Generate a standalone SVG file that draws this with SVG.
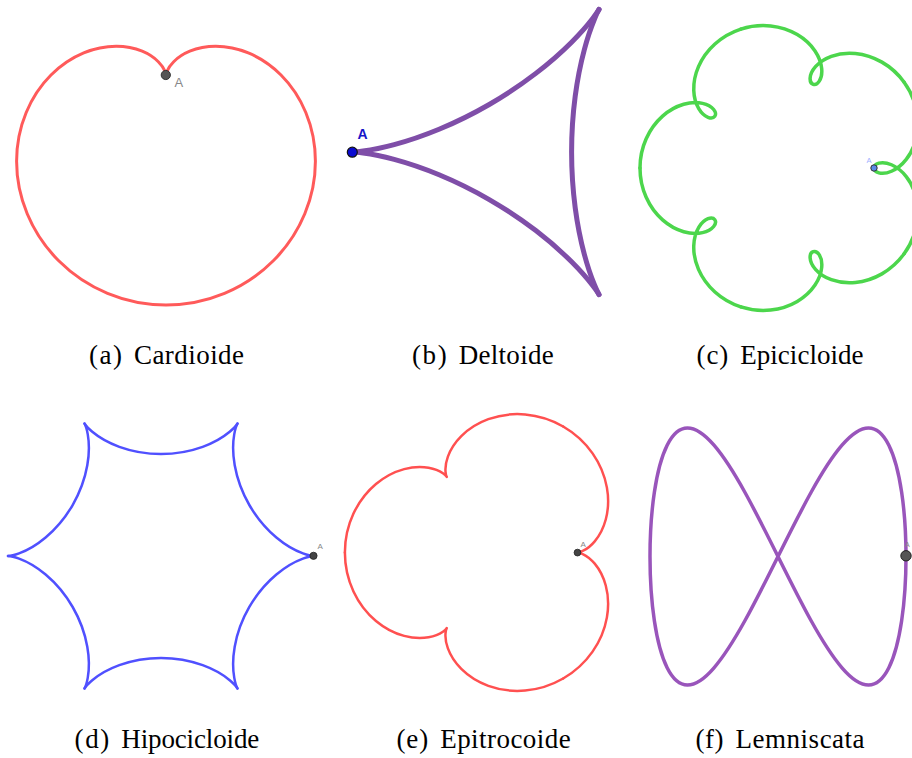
<svg xmlns="http://www.w3.org/2000/svg" width="912" height="758" viewBox="0 0 912 758">
<style>
.cap{font-family:"Liberation Serif","DejaVu Serif",serif;font-size:27px;fill:#000}
.lbl{font-family:"Liberation Sans","DejaVu Sans",sans-serif}
.curve{fill:none;stroke-linecap:round;stroke-linejoin:round}
.pt{stroke:#333;stroke-width:1}
</style>
<defs>
<path id="deltSide" d="M352,152 C352,152 355.83,151.99 363.1,151.03 C370.37,150.07 381.07,148.15 394.16,144.64 C407.25,141.13 422.7,136.04 439.06,129.26 C455.42,122.48 472.65,114.04 489.25,104.46 C505.85,94.88 521.78,84.17 535.83,73.39 C549.88,62.61 562.02,51.78 571.6,42.2 C581.18,32.62 588.2,24.31 592.66,18.49 C597.12,12.67 599.05,9.37 599.05,9.37"/>
<path id="epiPiece" d="M118.12,-85.82 C124.09,-77.6 128.29,-68.11 130.33,-58.5 C132.37,-48.89 132.26,-39.18 130.35,-30.54 C128.44,-21.9 124.75,-14.33 120.24,-8.57 C115.73,-2.81 110.41,1.14 105.48,3.26 C100.55,5.38 96.04,5.67 92.9,4.82 C89.76,3.97 88,1.99 88,0 C88,-1.99 89.76,-3.97 92.9,-4.82 C96.04,-5.67 100.55,-5.38 105.48,-3.26 C110.41,-1.14 115.73,2.81 120.24,8.57 C124.75,14.33 128.44,21.9 130.35,30.54 C132.26,39.18 132.37,48.89 130.33,58.5 C128.29,68.11 124.09,77.6 118.12,85.82"/>
<path id="hypoSide" d="M314,556 C314,556 309.92,555.93 302.95,553.39 C295.98,550.85 286.22,545.77 276.38,537.51 C266.54,529.25 256.75,517.85 249.33,505 C241.91,492.15 236.94,477.97 234.71,465.32 C232.48,452.67 232.94,441.67 234.23,434.37 C235.52,427.07 237.5,423.5 237.5,423.5"/>
<path id="trocPiece" d="M72.75,-126.01 C84.48,-119.24 94.67,-109.84 102.17,-99.12 C109.67,-88.4 114.47,-76.42 116.51,-64.87 C118.55,-53.32 117.84,-42.25 115.36,-33 C112.88,-23.75 108.68,-16.34 104.33,-11.15 C99.98,-5.96 95.52,-2.99 92.34,-1.51 C89.16,-0.03 87.3,0 87.3,0 C87.3,0 89.16,0.03 92.34,1.51 C95.52,2.99 99.98,5.96 104.33,11.15 C108.68,16.34 112.88,23.75 115.36,33 C117.84,42.25 118.55,53.32 116.51,64.87 C114.47,76.42 109.67,88.4 102.17,99.12 C94.67,109.84 84.48,119.24 72.75,126.01"/>
</defs>
<rect width="912" height="758" fill="#fff"/>

<g id="panel-a">
<path class="curve" stroke="#ff5a5a" stroke-width="3" d="M166,75 C166,75 166,73.62 167,71.2 C168,68.78 170.03,65.37 173.7,61.7 C177.37,58.03 182.7,54.14 189.8,51.2 C196.9,48.26 205.76,46.25 215.8,46.25 C225.84,46.25 237.01,48.22 248.3,52.9 C259.59,57.58 270.96,64.96 281,75 C291.04,85.04 299.71,97.79 305.8,112.5 C311.89,127.21 315.4,143.87 315.4,161.25 C315.4,178.63 311.9,196.67 304.8,213.8 C297.7,230.93 287.01,247.09 273.3,260.8 C259.59,274.51 242.88,285.78 224.5,293.4 C206.12,301.02 186.07,305 166,305 C145.93,305 125.88,301.02 107.5,293.4 C89.12,285.78 72.41,274.51 58.7,260.8 C44.99,247.09 34.3,230.93 27.2,213.8 C20.1,196.67 16.6,178.63 16.6,161.25 C16.6,143.87 20.11,127.21 26.2,112.5 C32.29,97.79 40.96,85.04 51,75 C61.04,64.96 72.41,57.58 83.7,52.9 C94.99,48.22 106.16,46.25 116.2,46.25 C126.24,46.25 135.1,48.26 142.2,51.2 C149.3,54.14 154.63,58.03 158.3,61.7 C161.97,65.37 164,68.78 165,71.2 C166,73.62 166,75 166,75 Z"/>
<circle class="pt" cx="165.8" cy="75" r="4.6" fill="#555"/>
<text class="lbl" x="174.5" y="87" font-size="13" fill="#888">A</text>
<text class="cap" x="89" y="364" textLength="33" lengthAdjust="spacing">(a)</text>
<text class="cap" x="134" y="364" textLength="110" lengthAdjust="spacing">Cardioide</text>
</g>

<g id="panel-b" class="curve" stroke="#7f4ea8" stroke-width="5">
<use href="#deltSide"/>
<use href="#deltSide" transform="rotate(120 516.7 152)"/>
<use href="#deltSide" transform="rotate(240 516.7 152)"/>
</g>
<g id="panel-b-labels">
<circle cx="352.3" cy="152.2" r="5" fill="#0a0ad0" stroke="#111" stroke-width="1.2"/>
<text class="lbl" x="357.5" y="139" font-size="14" font-weight="bold" fill="#1515c8">A</text>
<text class="cap" x="412" y="364" textLength="34.7" lengthAdjust="spacing">(b)</text>
<text class="cap" x="458.7" y="364" textLength="95" lengthAdjust="spacing">Deltoide</text>
</g>

<g id="panel-c">
<g class="curve" stroke="#4cd64c" stroke-width="3.5" transform="translate(786,168)">
<use href="#epiPiece"/>
<use href="#epiPiece" transform="rotate(72)"/>
<use href="#epiPiece" transform="rotate(144)"/>
<use href="#epiPiece" transform="rotate(216)"/>
<use href="#epiPiece" transform="rotate(288)"/>
</g>
<circle cx="874" cy="168" r="3.2" fill="#5a8ae8" stroke="#333" stroke-width="1"/>
<text class="lbl" x="866.5" y="162.5" font-size="7.5" fill="#9fb0ff">A</text>
<text class="cap" x="696.5" y="364" textLength="31.8" lengthAdjust="spacing">(c)</text>
<text class="cap" x="740.3" y="364" textLength="123.2" lengthAdjust="spacing">Epicicloide</text>
</g>

<g id="panel-d">
<g class="curve" stroke="#5050ff" stroke-width="2.5">
<use href="#hypoSide"/>
<use href="#hypoSide" transform="rotate(60 161 556)"/>
<use href="#hypoSide" transform="rotate(120 161 556)"/>
<use href="#hypoSide" transform="rotate(180 161 556)"/>
<use href="#hypoSide" transform="rotate(240 161 556)"/>
<use href="#hypoSide" transform="rotate(300 161 556)"/>
</g>
<circle cx="313.5" cy="555.8" r="3.6" fill="#444" stroke="#222" stroke-width="0.8"/>
<text class="lbl" x="317.5" y="548.5" font-size="8" fill="#888">A</text>
<text class="cap" x="74.6" y="748" textLength="34.7" lengthAdjust="spacing">(d)</text>
<text class="cap" x="121.3" y="748" textLength="138" lengthAdjust="spacing">Hipocicloide</text>
</g>

<g id="panel-e">
<g class="curve" stroke="#ff5050" stroke-width="2.5" transform="translate(490.4,552.5)">
<use href="#trocPiece"/>
<use href="#trocPiece" transform="rotate(120)"/>
<use href="#trocPiece" transform="rotate(240)"/>
</g>
<circle cx="577.5" cy="552.6" r="3.4" fill="#444" stroke="#222" stroke-width="0.8"/>
<text class="lbl" x="580.5" y="546.5" font-size="8" fill="#888">A</text>
<text class="cap" x="396.4" y="748" textLength="31.8" lengthAdjust="spacing">(e)</text>
<text class="cap" x="440.2" y="748" textLength="130.5" lengthAdjust="spacing">Epitrocoide</text>
</g>

<g id="panel-f">
<path class="curve" stroke="#9955bb" stroke-width="3.5" d="M906,556.5 C906,534.07 904.53,511.67 901.64,492.25 C898.75,472.83 894.44,456.44 888.85,445.22 C883.26,434 876.41,428 868.51,428 C860.61,428 851.67,434 842,445.22 C832.33,456.44 821.92,472.83 811.13,492.25 C800.34,511.67 789.17,534.07 778,556.5 C766.83,578.93 755.66,601.33 744.87,620.75 C734.08,640.17 723.67,656.56 714,667.78 C704.33,679 695.39,685 687.49,685 C679.59,685 672.74,679 667.15,667.78 C661.56,656.56 657.25,640.17 654.36,620.75 C651.47,601.33 650,578.93 650,556.5 C650,534.07 651.47,511.67 654.36,492.25 C657.25,472.83 661.56,456.44 667.15,445.22 C672.74,434 679.59,428 687.49,428 C695.39,428 704.33,434 714,445.22 C723.67,456.44 734.08,472.83 744.87,492.25 C755.66,511.67 766.83,534.07 778,556.5 C789.17,578.93 800.34,601.33 811.13,620.75 C821.92,640.17 832.33,656.56 842,667.78 C851.67,679 860.61,685 868.51,685 C876.41,685 883.26,679 888.85,667.78 C894.44,656.56 898.75,640.17 901.64,620.75 C904.53,601.33 906,578.93 906,556.5 Z"/>
<circle cx="906" cy="555.8" r="5.2" fill="#555" stroke="#222" stroke-width="1"/>
<text class="lbl" x="905" y="547" font-size="7" fill="#888">A</text>
<text class="cap" x="695.4" y="748" textLength="28.2" lengthAdjust="spacing">(f)</text>
<text class="cap" x="735.6" y="748" textLength="129" lengthAdjust="spacing">Lemniscata</text>
</g>
</svg>
